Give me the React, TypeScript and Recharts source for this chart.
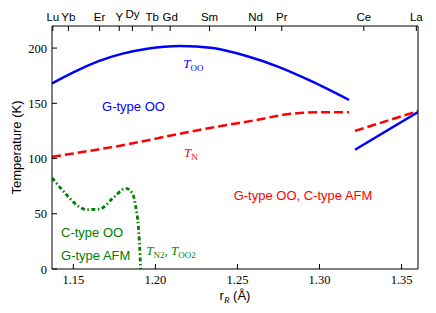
import { ComposedChart, Line, XAxis, YAxis, ReferenceDot, Label } from "recharts";

// ── data ──────────────────────────────────────────────────────────────────────

const elementNames = ["Lu", "Yb", "Er", "Y", "Dy", "Tb", "Gd", "Sm", "Nd", "Pr", "Ce", "La"];
const elementRadii = [1.1375, 1.147, 1.166, 1.178, 1.186, 1.198, 1.209, 1.233, 1.261, 1.277, 1.327, 1.359];
const radiusTicks = [1.15, 1.2, 1.25, 1.3, 1.35];
const tempTicks = [0, 50, 100, 150, 200];

// T_OO, G-type orbital order
const tooR = [1.137, 1.15, 1.165, 1.18, 1.195, 1.215, 1.235, 1.255, 1.275, 1.295, 1.318];
const tooT = [168, 178, 188, 195, 199.5, 202, 200, 193, 183, 170, 153];
const tooCeR = [1.3216, 1.36];
const tooCeT = [108, 142];

// T_N
const tnR = [1.137, 1.16, 1.18, 1.2, 1.22, 1.24, 1.26, 1.28, 1.3, 1.318];
const tnT = [101.5, 107, 112, 118, 124, 129.5, 134.5, 140, 142, 142];
const tnCeR = [1.3216, 1.36];
const tnCeT = [125, 143];

// T_N2, T_OO2
const tn2R = [1.137, 1.146, 1.152, 1.158, 1.166, 1.174, 1.182, 1.186, 1.188, 1.1896, 1.1904, 1.191];
const tn2T = [82.5, 67, 58, 53.8, 54.2, 64, 73, 68.5, 56.5, 38.5, 20.5, 0];

const toRows = (rs: number[], ts: number[]) => rs.map((r, i) => ({ r, t: ts[i] }));

const BLUE = "#0000ff";
const RED = "#ff0000";
const GREEN = "#008000";
const SANS = "'Liberation Sans', Arial, sans-serif";
const SERIF = "'Liberation Serif', 'DejaVu Serif', serif";

// ── helpers ───────────────────────────────────────────────────────────────────

function ElementTick(props: any) {
    const { x, y, payload } = props;
    const name = elementNames[elementRadii.indexOf(payload.value)];
    const lift = name === "Dy" ? 3 : 0;
    return (
        <text x={x} y={y - lift} textAnchor="middle" fontFamily={SANS} fontSize={11.5} fill="#000">
            {name}
        </text>
    );
}

function RadiusTick(props: any) {
    const { x, y, payload } = props;
    return (
        <text x={x} y={y + 9} textAnchor="middle" fontFamily={SERIF} fontSize={12.5} fill="#000">
            {payload.value.toFixed(2)}
        </text>
    );
}

function TempTick(props: any) {
    const { x, y, payload } = props;
    return (
        <text x={x} y={y + 4.5} textAnchor="end" fontFamily={SERIF} fontSize={12.5} fill="#000">
            {payload.value}
        </text>
    );
}

const note = (color: string, text: string) => (p: any) => (
    <text x={p.viewBox.x} y={p.viewBox.y} fontFamily={SANS} fontSize={13} fill={color}>{text}</text>
);

const mathNote = (color: string, parts: [string, string][]) => (p: any) => (
    <text x={p.viewBox.x} y={p.viewBox.y} fontFamily={SERIF} fontSize={13} fill={color}>
        {parts.map(([sym, sub], i) => [
            <tspan key={"s" + i} fontStyle="italic" dy={i === 0 ? 0 : -3}>{(i > 0 ? ", " : "") + sym}</tspan>,
            <tspan key={"b" + i} fontSize={9} dy={3}>{sub}</tspan>,
        ])}
    </text>
);

const xLabel = (p: any) => {
    const vb = p.viewBox;
    return (
        <text x={vb.x + vb.width / 2} y={vb.y + 31} textAnchor="middle" fontFamily={SANS} fontSize={13} fill="#000">
            r<tspan fontFamily={SERIF} fontStyle="italic" fontSize={9} dy={3}>R</tspan>
            <tspan dy={-3}> (Å)</tspan>
        </text>
    );
};

const yLabel = (p: any) => {
    const vb = p.viewBox;
    const cy = vb.y + vb.height / 2;
    return (
        <text transform={`translate(${vb.x + 21}, ${cy}) rotate(-90)`} textAnchor="middle"
            fontFamily={SANS} fontSize={13} fill="#000">
            Temperature (K)
        </text>
    );
};

const axisLine = { stroke: "#000", strokeWidth: 1 };

// ── chart ─────────────────────────────────────────────────────────────────────

export default function App() {
    return (
        <div style={{ position: "absolute", left: 0, top: 0, background: "#fff" }}>
            <ComposedChart width={436} height={313} margin={{ top: 0, right: 0, bottom: 0, left: 0 }}>
                <XAxis xAxisId="bottom" type="number" dataKey="r" domain={[1.137, 1.36]} allowDataOverflow
                    ticks={radiusTicks} interval={0}
                    height={44} tickSize={-5} tickMargin={11} tick={<RadiusTick />}
                    axisLine={axisLine} tickLine={axisLine}>
                    <Label content={xLabel} />
                </XAxis>
                <XAxis xAxisId="top" orientation="top" type="number" dataKey="r" domain={[1.137, 1.36]} allowDataOverflow
                    ticks={elementRadii} interval={0} height={26} tickSize={-5} tickMargin={10}
                    tick={<ElementTick />} axisLine={axisLine} tickLine={axisLine} />
                <YAxis yAxisId="left" type="number" domain={[0, 220]} ticks={tempTicks} interval={0}
                    width={52} tickSize={-5} tickMargin={10} tick={<TempTick />}
                    axisLine={axisLine} tickLine={axisLine}>
                    <Label content={yLabel} />
                </YAxis>
                <YAxis yAxisId="right" orientation="right" type="number" domain={[0, 220]} ticks={tempTicks}
                    interval={0} width={18} tickSize={-5} tick={false} axisLine={axisLine} tickLine={axisLine} />

                <Line xAxisId="bottom" yAxisId="left" data={toRows(tooR, tooT)} dataKey="t" type="monotone"
                    stroke={BLUE} strokeWidth={2.5} dot={false} activeDot={false} isAnimationActive={false} />
                <Line xAxisId="bottom" yAxisId="left" data={toRows(tooCeR, tooCeT)} dataKey="t" type="linear"
                    stroke={BLUE} strokeWidth={2.5} dot={false} activeDot={false} isAnimationActive={false} />
                <Line xAxisId="bottom" yAxisId="left" data={toRows(tnR, tnT)} dataKey="t" type="monotone"
                    stroke={RED} strokeWidth={2.5} strokeDasharray="9 4" dot={false} activeDot={false} isAnimationActive={false} />
                <Line xAxisId="bottom" yAxisId="left" data={toRows(tnCeR, tnCeT)} dataKey="t" type="linear"
                    stroke={RED} strokeWidth={2.5} strokeDasharray="9 4" dot={false} activeDot={false} isAnimationActive={false} />
                <Line xAxisId="bottom" yAxisId="left" data={toRows(tn2R, tn2T)} dataKey="t" type="monotone"
                    stroke={GREEN} strokeWidth={2.8} strokeDasharray="4 2.5 1.5 2.5" dot={false} activeDot={false} isAnimationActive={false} />

                <ReferenceDot xAxisId="bottom" yAxisId="left" x={1.217} y={182} r={0}
                    label={{ content: mathNote(BLUE, [["T", "OO"]]) }} />
                <ReferenceDot xAxisId="bottom" yAxisId="left" x={1.1675} y={143} r={0}
                    label={{ content: note(BLUE, "G-type OO") }} />
                <ReferenceDot xAxisId="bottom" yAxisId="left" x={1.2175} y={101.5} r={0}
                    label={{ content: mathNote(RED, [["T", "N"]]) }} />
                <ReferenceDot xAxisId="bottom" yAxisId="left" x={1.2477} y={62.7} r={0}
                    label={{ content: note(RED, "G-type OO, C-type AFM") }} />
                <ReferenceDot xAxisId="bottom" yAxisId="left" x={1.1425} y={29} r={0}
                    label={{ content: note(GREEN, "C-type OO") }} />
                <ReferenceDot xAxisId="bottom" yAxisId="left" x={1.1425} y={8.4} r={0}
                    label={{ content: note(GREEN, "G-type AFM") }} />
                <ReferenceDot xAxisId="bottom" yAxisId="left" x={1.1945} y={12.9} r={0}
                    label={{ content: mathNote(GREEN, [["T", "N2"], ["T", "OO2"]]) }} />
            </ComposedChart>
        </div>
    );
}
